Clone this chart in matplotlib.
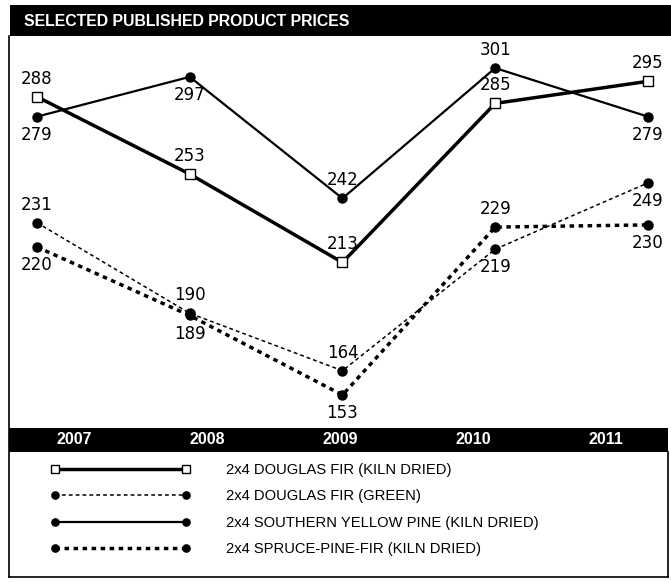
import matplotlib
matplotlib.use("Agg")
import matplotlib.pyplot as plt
from matplotlib.patches import Rectangle
from matplotlib.lines import Line2D

# Datos del gráfico
anios = [2007, 2008, 2009, 2010, 2011]
douglas_seco = [288, 253, 213, 285, 295]
douglas_verde = [231, 190, 164, 219, 249]
pino_amarillo = [279, 297, 242, 301, 279]
spf_seco = [220, 189, 153, 229, 230]

nombres = [
    "2x4 DOUGLAS FIR (KILN DRIED)",
    "2x4 DOUGLAS FIR (GREEN)",
    "2x4 SOUTHERN YELLOW PINE (KILN DRIED)",
    "2x4 SPRUCE-PINE-FIR (KILN DRIED)",
]
titulo = "SELECTED PUBLISHED PRODUCT PRICES"

# posición de las etiquetas: 1 arriba, -1 abajo
pos_douglas_seco = [1, 1, 1, 1, 1]
pos_douglas_verde = [1, 1, 1, -1, -1]
pos_pino = [-1, -1, 1, 1, -1]
pos_spf = [-1, -1, -1, 1, -1]

W, H = 671, 583
fig = plt.figure(figsize=(W / 100, H / 100), dpi=100)
fig.patch.set_facecolor("white")


def fx(px):
    return px / W


def fy(py):
    return 1 - py / H


# ejes sobre toda la figura
ax = fig.add_axes([0, 0, 1, 1])
ax.set_axis_off()
ax.set_xlim(2007 - 0.242, 2011 + 0.151)
ax.set_ylim(67.9, 331.8)

sans = ["Liberation Sans", "DejaVu Sans"]

# barra del título
fig.patches.append(Rectangle((fx(10), fy(36)), fx(W - 10), 31 / H, transform=fig.transFigure,
                             facecolor="black", edgecolor="none"))
fig.text(fx(24), fy(21), titulo, color="white", fontsize=11.4, fontweight="bold",
         family=sans, va="center", ha="left")

# barra de años
fig.patches.append(Rectangle((fx(9), fy(452)), fx(668 - 9), 24 / H, transform=fig.transFigure,
                             facecolor="black", edgecolor="none"))
for i, a in enumerate(anios):
    fig.text(fx(74 + i * 133), fy(440), str(a), color="white", fontsize=11.5,
             fontweight="bold", family=sans, ha="center", va="center")

# marco
fig.lines.append(Line2D([fx(9), fx(9)], [fy(36), fy(577)], transform=fig.transFigure,
                        color="black", lw=1.2))
fig.lines.append(Line2D([fx(9), fx(668)], [fy(577), fy(577)], transform=fig.transFigure,
                        color="black", lw=1.2))
fig.lines.append(Line2D([fx(668), fx(668)], [fy(452), fy(577)], transform=fig.transFigure,
                        color="black", lw=1.2))

# series
l1, = ax.plot(anios, douglas_seco, color="black", lw=2.5, marker="s", ms=6.5,
              mfc="white", mec="black", mew=1, zorder=4)
l2, = ax.plot(anios, douglas_verde, color="black", lw=1.1, ls=(0, (2.5, 2)),
              marker="o", ms=6.5, zorder=3)
l3, = ax.plot(anios, pino_amarillo, color="black", lw=1.6, marker="o", ms=6.5, zorder=3)
l4, = ax.plot(anios, spf_seco, color="black", lw=2.5, ls=(0, (1.3, 1.3)),
              marker="o", ms=6.5, zorder=3)

# etiquetas de valores
for serie, pos in [(douglas_seco, pos_douglas_seco), (douglas_verde, pos_douglas_verde),
                   (pino_amarillo, pos_pino), (spf_seco, pos_spf)]:
    for a, v, p in zip(anios, serie, pos):
        ax.annotate(str(v), (a, v), xytext=(0, 13 * p), textcoords="offset points",
                    ha="center", va="center", fontsize=12, family="DejaVu Sans")

# leyenda
leg = fig.legend([l1, l2, l3, l4], nombres, loc="upper left",
                 bbox_to_anchor=(fx(51), fy(463)), frameon=False, numpoints=2,
                 handlelength=9.5, handletextpad=2.4, labelspacing=0.84,
                 borderpad=0, borderaxespad=0, markerscale=0.8,
                 prop={"family": sans, "size": 10.6})

fig.savefig("out.png", dpi=100, facecolor="white")
